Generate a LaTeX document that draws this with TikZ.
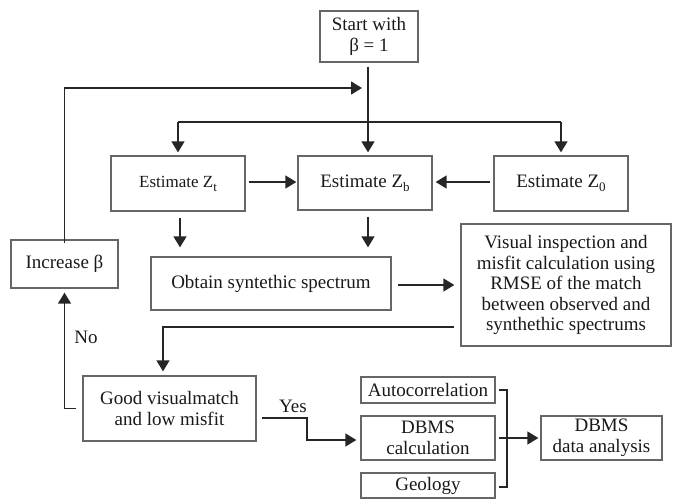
\documentclass[tikz,border=0pt]{standalone}
\usepackage{fontspec}
\setmainfont{Liberation Serif}
\usetikzlibrary{arrows.meta,calc}
\newcommand{\subx}[1]{\raisebox{-0.5ex}{\fontsize{13}{13}\selectfont #1}}
\tikzset{
  box/.style={draw=black!60, line width=1.3pt, text=black!90, inner sep=0pt, align=center,
    font=\fontsize{19}{20.5}\selectfont},
  conn/.style={draw=black!85, line width=1.4pt},
  arr/.style={conn, -{Triangle[width=13pt,length=11pt]}},
  lbl/.style={text=black!90, font=\fontsize{19}{20.5}\selectfont, inner sep=0pt}
}
\begin{document}
\begin{tikzpicture}[x=1pt,y=-1pt]
\useasboundingbox (0,0) rectangle (673,499);
% nodes
\node[box, minimum width=98pt, minimum height=51pt] (start) at (369,36.5) {Start with\\β = 1};
\node[box, minimum width=134pt, minimum height=55pt, font=\fontsize{17}{18}\selectfont] (zt) at (178,183.5) {Estimate Z\subx{t}};
\node[box, minimum width=134pt, minimum height=54pt] (zb) at (365,183) {Estimate Z\subx{b}};
\node[box, minimum width=134pt, minimum height=55pt] (z0) at (561,183.5) {Estimate Z\subx{0}};
\node[box, minimum width=107pt, minimum height=48pt] (inc) at (64.5,264) {Increase β};
\node[box, minimum width=240pt, minimum height=53pt] (obt) at (271,283.5) {Obtain syntethic spectrum};
\node[box, minimum width=210pt, minimum height=122pt] (vis) at (566,285) {Visual inspection and\\misfit calculation using\\RMSE of the match\\between observed and\\synthethic spectrums};
\node[box, minimum width=173pt, minimum height=65pt] (good) at (169.5,408.5) {Good visualmatch\\and low misfit};
\node[box, minimum width=134pt, minimum height=26pt] (auto) at (428,390) {Autocorrelation};
\node[box, minimum width=134pt, minimum height=44pt] (calc) at (428,438) {DBMS\\calculation};
\node[box, minimum width=134pt, minimum height=25pt] (geo) at (428,485.5) {Geology};
\node[box, minimum width=121pt, minimum height=44pt] (dbms) at (601.5,438) {DBMS\\data analysis};
% helper coordinates
\coordinate (hl) at (368,122);
\coordinate (fb) at (362,88);
\coordinate (yk) at (307,429);
\coordinate (bx) at (507,438);
% connectors
\draw[arr] ([yshift=-4pt]start.south -| hl) -- ([yshift=3pt]zb.north -| hl);
\draw[arr] ([yshift=-4pt]inc.north) |- (fb);
\draw[conn] (zt.north |- hl) -- (z0.north |- hl);
\draw[arr] (zt.north |- hl) -- ([yshift=3pt]zt.north);
\draw[arr] (z0.north |- hl) -- ([yshift=3pt]z0.north);
\draw[arr] ([xshift=3pt,yshift=1.5pt]zt.east) -- ([xshift=-1pt,yshift=1pt]zb.west);
\draw[arr] ([xshift=-3pt,yshift=1.5pt]z0.west) -- ([xshift=3pt,yshift=1pt]zb.east);
\draw[arr] ([xshift=2pt,yshift=-6pt]zt.south) -- ($(obt.north -| zt.south)+(2,-9)$);
\draw[arr] ([yshift=-6pt]zb.south -| hl) -- ($(obt.north -| hl)+(0,-9)$);
\draw[arr] ([xshift=6pt,yshift=-1.5pt]obt.east) -- ($(obt.east -| vis.west)+(-6,1.5)$);
\draw[arr] ([xshift=-6pt,yshift=-42pt]vis.west) -| ([xshift=-6.5pt,yshift=4pt]good.north);
\draw[arr] ([xshift=-6pt]good.west) -| ([yshift=-4pt]inc.south);
\draw[arr] ([xshift=5pt,yshift=-9.5pt]good.east) -| (yk) |- ([xshift=-4pt,yshift=-2pt]calc.west);
\draw[conn] ([xshift=3pt]auto.east) -| (bx) |- ([xshift=3pt,yshift=-1.5pt]geo.east);
\draw[arr] ([xshift=3pt]calc.east) -- ([xshift=-2pt]dbms.west);
% labels
\node[lbl] (no) at (86,337) {No};
\node[lbl] (yes) at (293,406) {Yes};
\end{tikzpicture}
\end{document}
